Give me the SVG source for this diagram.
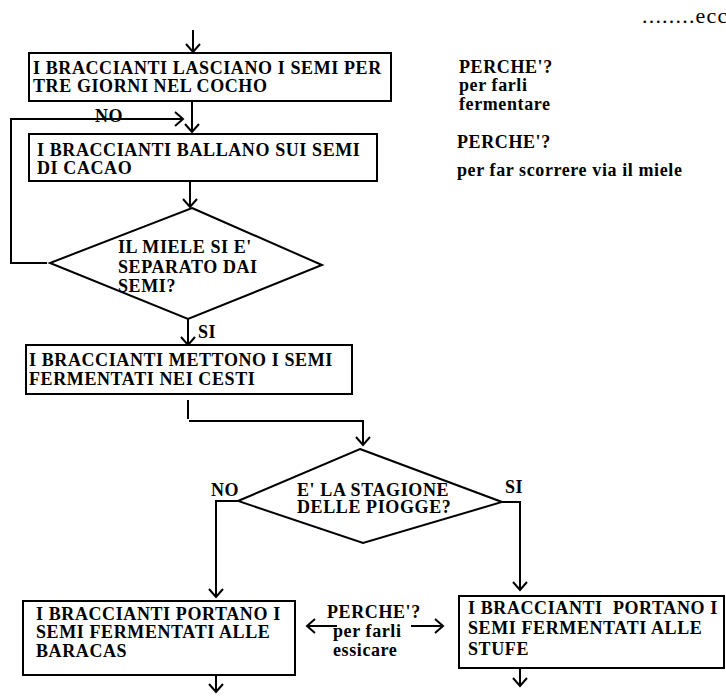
<svg xmlns="http://www.w3.org/2000/svg" width="726" height="700" viewBox="0 0 726 700">
  <style>
    .t { font-size: 18px; font-weight: bold; letter-spacing: 0.6px; fill: #000; }
    .r { font-size: 22px; letter-spacing: 1.2px; fill: #000; }
    .box { fill: #fff; stroke: #000; stroke-width: 2; }
    .ln { fill: none; stroke: #000; stroke-width: 2; }
  </style>
  <defs>
    <marker id="ah" markerUnits="userSpaceOnUse" markerWidth="20" markerHeight="20" refX="0" refY="0" viewBox="-10 -10 20 20" orient="auto" overflow="visible">
      <path d="M-8,-7 L0,0 L-8,7" fill="none" stroke="#000" stroke-width="2"/>
    </marker>
  </defs>
  <rect width="726" height="700" fill="#fff"/>

  <g font-family="Liberation Serif, DejaVu Serif, serif">
  <g id="connectors">
    <line class="ln" x1="193" y1="30" x2="193" y2="52" marker-end="url(#ah)"/>
    <line class="ln" x1="192" y1="101" x2="192" y2="132" marker-end="url(#ah)"/>
    <polyline class="ln" points="47,263 11,263 11,119 183,119" marker-end="url(#ah)"/>
    <line class="ln" x1="190" y1="181" x2="190" y2="207" marker-end="url(#ah)"/>
    <line class="ln" x1="188" y1="319" x2="188" y2="345" marker-end="url(#ah)"/>
    <line class="ln" x1="188" y1="400" x2="188" y2="419"/>
    <polyline class="ln" points="189,421 363,421 363,445" marker-end="url(#ah)"/>
    <polyline class="ln" points="238,501 216,501 216,597" marker-end="url(#ah)"/>
    <polyline class="ln" points="502,502 520,502 520,590" marker-end="url(#ah)"/>
    <line class="ln" x1="216" y1="675" x2="216" y2="692" marker-end="url(#ah)"/>
    <line class="ln" x1="520" y1="668" x2="520" y2="686" marker-end="url(#ah)"/>
    <line class="ln" x1="337" y1="626" x2="307" y2="626" marker-end="url(#ah)"/>
    <line class="ln" x1="411" y1="626" x2="443" y2="626" marker-end="url(#ah)"/>
    <text class="t" x="95" y="122">NO</text>
    <text class="t" x="198" y="338">SI</text>
    <text class="t" x="211" y="496">NO</text>
    <text class="t" x="505" y="493">SI</text>
  </g>

  <g id="box1">
    <rect class="box" x="29" y="53" width="362" height="48"/>
    <text class="t" x="33" y="74">I BRACCIANTI LASCIANO I SEMI PER</text>
    <text class="t" x="33" y="92">TRE GIORNI NEL COCHO</text>
  </g>

  <g id="box2">
    <rect class="box" x="29" y="134" width="348" height="47"/>
    <text class="t" x="37" y="156">I BRACCIANTI BALLANO SUI SEMI</text>
    <text class="t" x="37" y="174">DI CACAO</text>
  </g>

  <g id="decision1">
    <polygon class="box" points="192,208 322,265 188,319 50,263"/>
    <text class="t" x="118" y="253">IL MIELE SI E'</text>
    <text class="t" x="118" y="273">SEPARATO DAI</text>
    <text class="t" x="118" y="292">SEMI?</text>
  </g>

  <g id="box3">
    <rect class="box" x="26" y="345" width="326" height="49"/>
    <text class="t" x="29" y="366">I BRACCIANTI METTONO I SEMI</text>
    <text class="t" x="29" y="385">FERMENTATI NEI CESTI</text>
  </g>

  <g id="decision2">
    <polygon class="box" points="360,449 502,502 363,543 238,501"/>
    <text class="t" x="297" y="496">E' LA STAGIONE</text>
    <text class="t" x="297" y="513">DELLE PIOGGE?</text>
  </g>

  <g id="box4">
    <rect class="box" x="23" y="601" width="272" height="74"/>
    <text class="t" x="36" y="620">I BRACCIANTI PORTANO I</text>
    <text class="t" x="36" y="638">SEMI FERMENTATI ALLE</text>
    <text class="t" x="36" y="657">BARACAS</text>
  </g>

  <g id="box5">
    <rect class="box" x="459" y="596" width="265" height="72"/>
    <text class="t" x="468" y="614" xml:space="preserve">I BRACCIANTI  PORTANO I</text>
    <text class="t" x="468" y="634">SEMI FERMENTATI ALLE</text>
    <text class="t" x="468" y="655">STUFE</text>
  </g>

  <g id="note-essicare">
    <text class="t" x="327" y="618">PERCHE'?</text>
    <text class="t" x="333" y="637">per farli</text>
    <text class="t" x="333" y="656">essicare</text>
  </g>

  <g id="note-fermentare">
    <text class="t" x="459" y="73">PERCHE'?</text>
    <text class="t" x="459" y="91">per farli</text>
    <text class="t" x="459" y="110">fermentare</text>
  </g>

  <g id="note-miele">
    <text class="t" x="457" y="148">PERCHE'?</text>
    <text class="t" x="457" y="176">per far scorrere via il miele</text>
  </g>

  <g id="ecc">
    <text class="r" x="642" y="23">........ecc</text>
  </g>
  </g>
</svg>
